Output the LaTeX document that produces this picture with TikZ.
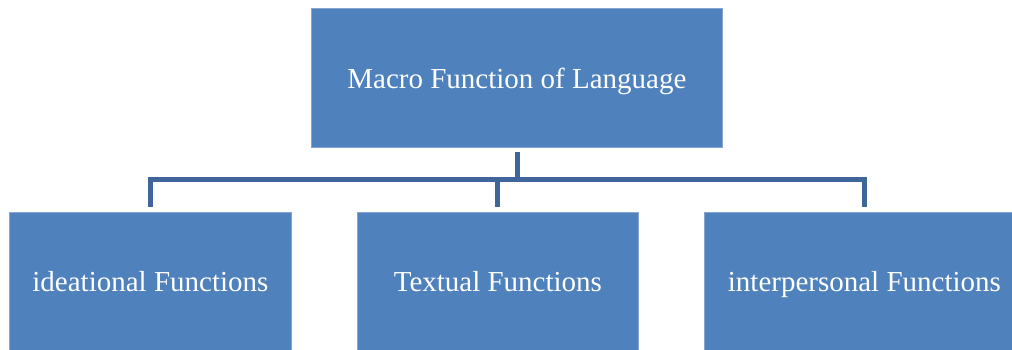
\documentclass[tikz,border=0pt]{standalone}
\usepackage{fontspec}
\setmainfont{Liberation Serif}
\definecolor{boxfill}{HTML}{4F81BD}
\definecolor{boxedge}{HTML}{86A6D0}
\definecolor{linkblue}{HTML}{3F659A}
\begin{document}
\begin{tikzpicture}[x=1pt,y=-1pt,
  fnbox/.style={fill=boxfill,draw=boxedge,line width=0.8pt,text=white,
    font=\fontsize{29}{33}\selectfont,inner sep=0pt,text depth=0pt,anchor=north west},
  conn/.style={draw=linkblue,line width=5pt,line join=miter}]
  \useasboundingbox (0,0) rectangle (1012,349);
  \begin{scope}
    \clip (0,0) rectangle (1012,349);
    % top-level box
    \node[fnbox,minimum width=411pt,minimum height=139pt] (macro) at (311,8)
      {Macro Function of Language};
    % three sub-function boxes
    \node[fnbox,minimum width=282pt,minimum height=139pt] (idea) at (9,212)
      {ideational Functions};
    \node[fnbox,minimum width=281pt,minimum height=139pt] (text) at (357,212)
      {Textual Functions};
    \node[fnbox,minimum width=320pt,minimum height=139pt] (inter) at (704,212)
      {interpersonal Functions};
  \end{scope}
  % bracket connectors
  \coordinate (trunk) at (517,152);
  \coordinate (bar) at (0,179.5);
  \coordinate (drop) at (0,207);
  \coordinate (ileg) at (150,0);
  \coordinate (rleg) at (864,0);
  \draw[conn] (trunk) -- (trunk |- bar);
  \draw[conn] (ileg |- drop) -- (ileg |- bar) -- (rleg |- bar) -- (rleg |- drop);
  \draw[conn] (text.north |- bar) -- (text.north |- drop);
\end{tikzpicture}
\end{document}
